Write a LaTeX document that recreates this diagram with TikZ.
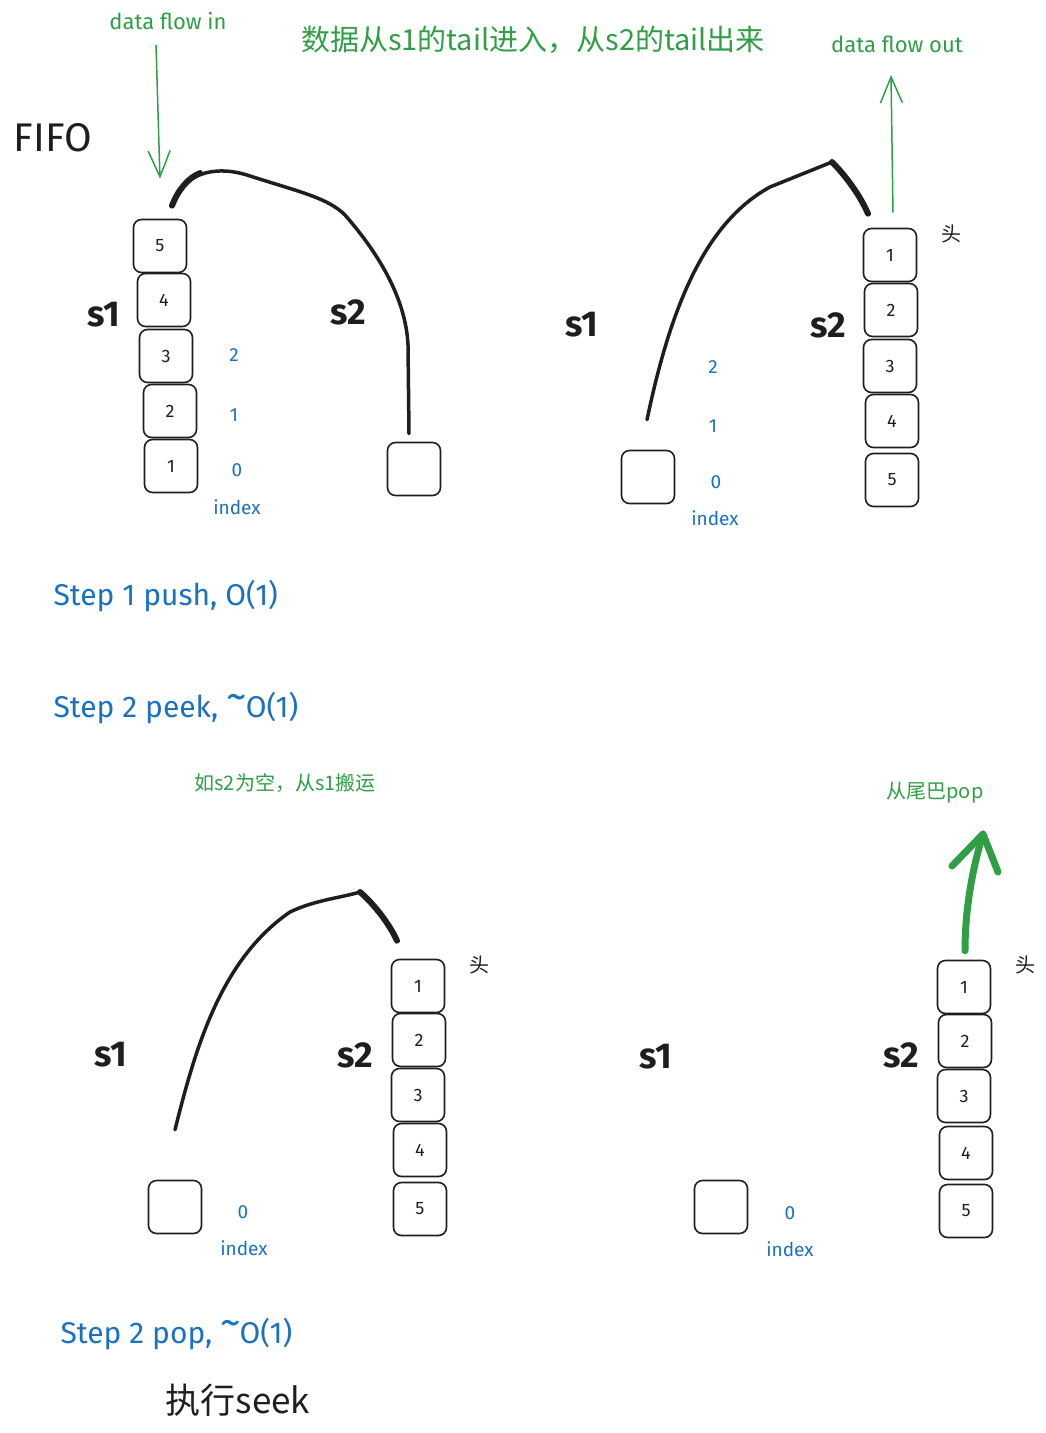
\documentclass[tikz,border=0pt]{standalone}
\usepackage{fontspec}
\setmainfont{Fira Sans}
\newfontfamily\cjk{Noto Sans CJK SC}
\usepackage{tikz}
\usetikzlibrary{arrows.meta}
\usetikzlibrary{calc}
\usetikzlibrary{positioning}
\definecolor{ink}{HTML}{1E1E1E}
\definecolor{leaf}{HTML}{2F9E44}
\definecolor{sea}{HTML}{1971C2}

\tikzset{
  cell/.style={draw=ink, line width=1.6pt, rounded corners=8pt, minimum width=53pt,
    minimum height=53pt, inner sep=0pt, text=ink, font=\fontsize{18}{18}\selectfont},
  idx/.style={text=sea, font=\fontsize{19}{19}\selectfont},
  stk/.style={text=ink, font=\fontsize{36}{36}\selectfont\bfseries},
  head/.style={text=ink, font=\cjk\fontsize{20}{20}\selectfont},
  note/.style={text=leaf, font=\cjk\fontsize{20}{20}\selectfont},
  flownote/.style={text=leaf, font=\fontsize{22}{22}\selectfont},
  stepnote/.style={text=sea, anchor=west, font=\fontsize{30}{30}\selectfont},
  link/.style={draw=ink, line width=3.5pt, line cap=round},
  hook/.style={draw=ink, line width=6pt, line cap=round},
  flow/.style={draw=leaf, line width=1.5pt, -{Straight Barb[length=26pt,width=22pt]}}
}
\newcommand{\approxO}{\raisebox{7pt}{\fontsize{42}{42}\selectfont\textasciitilde}\kern-1pt}

\begin{document}
\begin{tikzpicture}[x=1pt, y=-1pt]
  \useasboundingbox (0,0) rectangle (1045,1433);

  % titles
  \node[note, font=\cjk\fontsize{29}{29}\selectfont] (title) at (533,40) {数据从s1的tail进入，从s2的tail出来};
  \node[text=ink, font=\fontsize{40}{40}\selectfont] (fifo) at (53,138) {FIFO};

  % step 1: push into s1
  \foreach \v/\x/\y in {5/160/246, 4/164/300, 3/166/356, 2/170/411, 1/171/466} {
    \node[cell] (a\v) at (\x,\y) {\v};
  }
  \node[cell] (ae) at (414,469) {};
  \node[idx] (ai2) at (234,355) {2};
  \node[idx] (ai1) at (234,415) {1};
  \node[idx] (ai0) at (237,470) {0};
  \node[idx] (aix) at (237,507) {index};
  \node[stk] (as1) at (104,315) {s1};
  \node[stk] (as2) at (348,312) {s2};
  \node[flownote] (ain) at (168,21) {data flow in};
  \coordinate (ainstart) at (156,45);
  \draw[flow] (ainstart) -- ($(a5.north)+(0,-40)$);
  \draw[link] ($(a5.north)+(12,-13)$) .. controls (180,176) and (212,163) .. (250,176)
    .. controls (300,192) and (328,198) .. (345,215)
    .. controls (380,255) and (406,300) .. (408,345) -- ($(ae.north)+(-5,-8)$);
  \draw[hook] ($(a5.north)+(12,-13)$) .. controls (178,190) and (188,178) .. (200,173);

  % step 2: peek from s2
  \foreach \v/\x/\y in {1/890/255, 2/891/310, 3/890/366, 4/892/421, 5/892/480} {
    \node[cell] (b\v) at (\x,\y) {\v};
  }
  \node[cell] (be) at (648,477) {};
  \node[head] (bh) at (951,234) {头};
  \node[idx] (bi2) at (713,367) {2};
  \node[idx] (bi1) at (713,426) {1};
  \node[idx] (bi0) at (716,482) {0};
  \node[idx] (bix) at (715,518) {index};
  \node[stk] (bs1) at (582,325) {s1};
  \node[stk] (bs2) at (828,325) {s2};
  \node[flownote] (bout) at (897,44) {data flow out};
  \coordinate (boutend) at (891,75);
  \draw[flow] ($(b1.north)+(3,-15)$) -- (boutend);
  \draw[link] ($(be.north)+(-1,-30)$) .. controls (668,320) and (700,225) .. (770,187)
    -- (832,162) .. controls (845,175) and (860,195) .. ($(b1.north)+(-22,-14)$);
  \draw[hook] (832,162) .. controls (845,175) and (860,195) .. ($(b1.north)+(-22,-14)$);

  \node[stepnote] (st1) at (50,596) {Step 1 push, O(1)};
  \node[stepnote] (st2) at (50,708) {Step 2 peek, \approxO O(1)};
  \node[note] (move) at (285,783) {如s2为空，从s1搬运};

  % step 2: pop, s1 -> s2
  \foreach \v/\x/\y in {1/418/986, 2/419/1040, 3/418/1095, 4/420/1150, 5/420/1209} {
    \node[cell] (c\v) at (\x,\y) {\v};
  }
  \node[cell] (ce) at (175,1207) {};
  \node[head] (ch) at (479,965) {头};
  \node[idx] (ci0) at (243,1212) {0};
  \node[idx] (cix) at (244,1248) {index};
  \node[stk] (cs1) at (111,1055) {s1};
  \node[stk] (cs2) at (355,1055) {s2};
  \draw[link] ($(ce.north)+(0,-50)$) .. controls (195,1050) and (220,960) .. (290,912)
    .. controls (315,900) and (340,898) .. (360,892)
    .. controls (375,905) and (390,925) .. ($(c1.north)+(-21,-18)$);
  \draw[hook] (360,892) .. controls (375,905) and (390,925) .. ($(c1.north)+(-21,-18)$);

  \node[stepnote] (st3) at (57,1334) {Step 2 pop, \approxO O(1)};
  \node[text=ink, font=\cjk\fontsize{35}{35}\selectfont] (seek) at (238,1400) {执行seek};

  % pop from the tail of s2
  \foreach \v/\x/\y in {1/964/987, 2/965/1041, 3/964/1096, 4/966/1153, 5/966/1211} {
    \node[cell] (d\v) at (\x,\y) {\v};
  }
  \node[cell] (de) at (721,1207) {};
  \node[head] (dh) at (1025,965) {头};
  \node[idx] (di0) at (790,1213) {0};
  \node[idx] (dix) at (790,1249) {index};
  \node[stk] (ds1) at (656,1057) {s1};
  \node[stk] (ds2) at (901,1055) {s2};
  \node[note] (dpop) at (935,793) {从尾巴pop};
  \coordinate (dtip) at (983,834);
  \draw[draw=leaf, line width=7pt, line cap=round, line join=round]
    ($(d1.north)+(1,-9)$) .. controls (965,910) and (972,870) .. (dtip);
  \draw[draw=leaf, line width=7pt, line cap=round, line join=round]
    (952,866) -- (dtip) -- (998,872);
\end{tikzpicture}
\end{document}
